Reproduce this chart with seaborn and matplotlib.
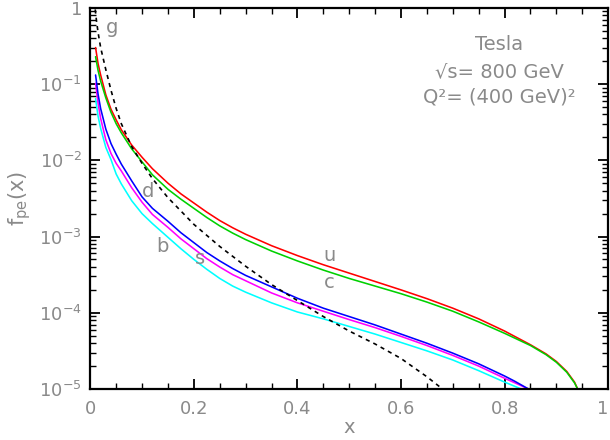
import numpy as np
import matplotlib
matplotlib.use("Agg")
import matplotlib.pyplot as plt
import matplotlib.ticker as mticker
import seaborn as sns

# x grid shared by the quark curves, log10 of f_pe(x)
x_grid = [0.0102, 0.015, 0.02, 0.03, 0.04, 0.05, 0.06, 0.08, 0.1, 0.12, 0.15, 0.175,
          0.2, 0.225, 0.25, 0.275, 0.3, 0.35, 0.4, 0.45, 0.5, 0.55, 0.6, 0.65, 0.7, 0.75, 0.8]

x_tail_uc = [0.85, 0.88, 0.9, 0.92, 0.935, 0.941]
x_tail_ds = [0.82, 0.846]
x_tail_b = [0.832]

u_log = [-0.52, -0.73, -0.88, -1.14, -1.33, -1.47, -1.60, -1.80, -1.96, -2.11, -2.30, -2.44,
         -2.56, -2.68, -2.79, -2.885, -2.97, -3.12, -3.25, -3.37, -3.48, -3.59, -3.70, -3.815,
         -3.94, -4.08, -4.24,
         -4.42, -4.54, -4.64, -4.77, -4.91, -5.0]
c_log = [-0.64, -0.82, -0.96, -1.18, -1.37, -1.52, -1.64, -1.85, -2.02, -2.19, -2.38, -2.51,
         -2.63, -2.75, -2.86, -2.955, -3.04, -3.19, -3.32, -3.44, -3.55, -3.65, -3.75, -3.86,
         -3.98, -4.12, -4.27,
         -4.43, -4.55, -4.65, -4.78, -4.92, -5.0]
d_log = [-0.88, -1.13, -1.32, -1.59, -1.78, -1.92, -2.05, -2.27, -2.48, -2.63, -2.80, -2.95,
         -3.08, -3.21, -3.32, -3.42, -3.51, -3.66, -3.81, -3.94, -4.05, -4.16, -4.28, -4.40,
         -4.53, -4.67, -4.83,
         -4.90, -5.0]
s_log = [-0.99, -1.25, -1.45, -1.73, -1.91, -2.04, -2.14, -2.36, -2.55, -2.71, -2.88, -3.03,
         -3.16, -3.29, -3.40, -3.50, -3.58, -3.74, -3.87, -3.98, -4.09, -4.195, -4.31, -4.43,
         -4.56, -4.70, -4.86,
         -4.92, -5.0]
b_log = [-1.19, -1.42, -1.58, -1.83, -1.99, -2.18, -2.31, -2.53, -2.70, -2.83, -3.01, -3.16,
         -3.30, -3.43, -3.55, -3.65, -3.73, -3.87, -3.99, -4.08, -4.18, -4.28, -4.39, -4.50,
         -4.62, -4.76, -4.91,
         -5.0]

# gluon (dashed)
x_g = [0.0095, 0.012, 0.015, 0.02, 0.03, 0.04, 0.05, 0.06, 0.08, 0.1, 0.12, 0.15,
       0.2, 0.25, 0.3, 0.35, 0.4, 0.45, 0.5, 0.55, 0.6, 0.65, 0.68]
g_log = [-0.02, -0.17, -0.32, -0.52, -0.81, -1.08, -1.32, -1.52, -1.82, -2.04, -2.24, -2.49,
         -2.84, -3.13, -3.39, -3.63, -3.84, -4.05, -4.24, -4.41, -4.60, -4.84, -5.0]

y_ticks = [1e-5, 1e-4, 1e-3, 1e-2, 1e-1, 1]
y_tick_labels = [r"$10^{-5}$", r"$10^{-4}$", r"$10^{-3}$", r"$10^{-2}$", r"$10^{-1}$", "1"]
x_ticks = [0, 0.2, 0.4, 0.6, 0.8, 1]
x_tick_labels = ["0", "0.2", "0.4", "0.6", "0.8", "1"]

grey = "#8a8a8a"

sns.set_theme(style="ticks")
plt.rcParams["font.family"] = ["DejaVu Sans"]
plt.rcParams["mathtext.default"] = "regular"

fig, ax = plt.subplots(figsize=(6.1, 4.4), dpi=100)
fig.subplots_adjust(left=0.148, right=0.997, bottom=0.116, top=0.982)

curves = [
    (x_grid + x_tail_uc, u_log, "#ff0000"),
    (x_grid + x_tail_uc, c_log, "#00d000"),
    (x_grid + x_tail_ds, s_log, "#ff00ff"),
    (x_grid + x_tail_ds, d_log, "#0000ff"),
    (x_grid + x_tail_b, b_log, "#00ffff"),
]
for xs, ylog, col in curves:
    sns.lineplot(x=xs, y=10 ** np.array(ylog), color=col, lw=1.15,
                 estimator=None, sort=False, ax=ax)

sns.lineplot(x=x_g, y=10 ** np.array(g_log), color="black", lw=1.2,
             estimator=None, sort=False, ax=ax, dashes=False)
ax.lines[-1].set_dashes([2.5, 2.5])

ax.set_yscale("log")
ax.set_xlim(0, 1)
ax.set_ylim(1e-5, 1)

ax.yaxis.set_major_locator(mticker.FixedLocator(y_ticks))
ax.yaxis.set_major_formatter(mticker.FixedFormatter(y_tick_labels))
ax.yaxis.set_minor_locator(mticker.LogLocator(base=10, subs=np.arange(2, 10)))
ax.yaxis.set_minor_formatter(mticker.NullFormatter())
ax.set_xticks(x_ticks)
ax.set_xticklabels(x_tick_labels)
ax.xaxis.set_minor_locator(mticker.MultipleLocator(0.05))
ax.get_xticklabels()[-1].set_horizontalalignment("right")

ax.tick_params(which="both", direction="in", top=True, right=True,
               color="black", labelcolor=grey, labelsize=13)
ax.tick_params(which="major", length=7, width=1.3)
ax.tick_params(which="minor", length=4.5, width=1.0)
ax.tick_params(axis="x", pad=8)
ax.tick_params(axis="y", pad=6)
for sp in ax.spines.values():
    sp.set_linewidth(1.6)
    sp.set_color("black")

ax.set_xlabel("x", color=grey, fontsize=14, labelpad=0)
ax.set_ylabel(r"$f_{pe}(x)$", color=grey, fontsize=15, labelpad=4)

# curve labels
ax.text(0.042, 0.55, "g", color=grey, fontsize=14, ha="center", va="center")
ax.text(0.112, 3.9e-3, "d", color=grey, fontsize=14, ha="center", va="center")
ax.text(0.140, 7.3e-4, "b", color=grey, fontsize=14, ha="center", va="center")
ax.text(0.212, 5.2e-4, "s", color=grey, fontsize=14, ha="center", va="center")
ax.text(0.462, 5.7e-4, "u", color=grey, fontsize=14, ha="center", va="center")
ax.text(0.462, 2.5e-4, "c", color=grey, fontsize=14, ha="center", va="center")

ax.text(0.79, 0.903, "Tesla", color=grey, fontsize=14, ha="center", va="center",
        transform=ax.transAxes)
ax.text(0.79, 0.832, "√s= 800 GeV", color=grey, fontsize=14, ha="center", va="center",
        transform=ax.transAxes)
ax.text(0.79, 0.766, "Q²= (400 GeV)²", color=grey, fontsize=14, ha="center", va="center",
        transform=ax.transAxes)

fig.savefig("out.png", dpi=100)
